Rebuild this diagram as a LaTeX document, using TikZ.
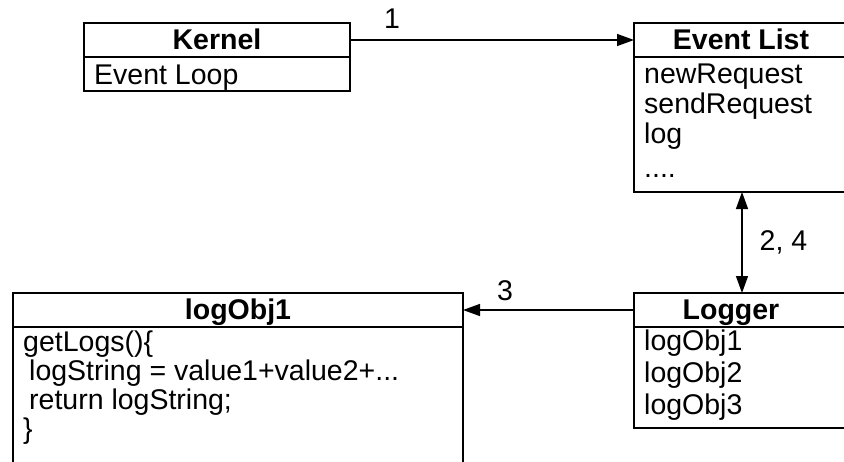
\documentclass[tikz,border=0pt]{standalone}
\usepackage{fontspec}
\setmainfont{Liberation Sans}
\usetikzlibrary{arrows.meta}
\begin{document}
\begin{tikzpicture}[x=1pt,y=-1pt,
  box/.style={draw, line width=1.8pt, rectangle, anchor=north west, inner sep=0pt, outer sep=0pt},
  tip/.tip={Triangle[length=17pt,width=12pt]},
  conn/.style={line width=1.4pt, -tip},
  dconn/.style={line width=1.4pt, tip-tip},
  txt/.style={anchor=base west, inner sep=0pt, font=\fontsize{28.5}{30}\selectfont},
  headtxt/.style={anchor=base, inner sep=0pt, font=\fontsize{28.5}{30}\selectfont\bfseries},
  lbl/.style={inner sep=0pt, font=\fontsize{28.5}{30}\selectfont}]
\clip (0,0) rectangle (844,461);
\fill[white] (0,0) rectangle (844,461);

% Kernel
\node[box, minimum width=266pt, minimum height=34pt] (kernelH) at (84,23) {};
\node[box, minimum width=266pt, minimum height=34pt] (kernelB) at (84,57) {};
\node[headtxt] (kernelT) at (217,49) {Kernel};
\node[txt] (kernel1) at (94,84) {Event Loop};

% Event List
\node[box, minimum width=216pt, minimum height=34pt] (evH) at (634,23) {};
\node[box, minimum width=216pt, minimum height=135pt] (evB) at (634,57) {};
\node[headtxt] (evT) at (741,49) {Event List};
\node[txt] (ev1) at (644,83) {newRequest};
\node[txt] (ev2) at (644,113) {sendRequest};
\node[txt] (ev3) at (644,143) {log};
\node[txt] (ev4) at (644,177) {....};

% logObj1
\node[box, minimum width=450pt, minimum height=34pt] (objH) at (13,293) {};
\node[box, minimum width=450pt, minimum height=160pt] (objB) at (13,327) {};
\node[headtxt] (objT) at (238,319) {logObj1};
\node[txt] (obj1) at (23,351) {getLogs()\{};
\node[txt] (obj2) at (29,380) {logString = value1+value2+...};
\node[txt] (obj3) at (29,409) {return logString;};
\node[txt] (obj4) at (23,438) {\}};

% Logger
\node[box, minimum width=216pt, minimum height=34pt] (logH) at (634,293) {};
\node[box, minimum width=216pt, minimum height=101pt] (logB) at (634,327) {};
\node[headtxt] (logT) at (731,319) {Logger};
\node[txt] (log1) at (644,350) {logObj1};
\node[txt] (log2) at (644,382) {logObj2};
\node[txt] (log3) at (644,414) {logObj3};

% connectors
\draw[conn] (kernelH.east) -- node[lbl, pos=0.148, above=11pt] (l1) {1} (evH.west);
\draw[conn] (logH.west) -- node[lbl, pos=0.754, above=9pt] (l3) {3} (objH.east);
\coordinate (a24) at (742,0);
\draw[dconn] (evB.south -| a24) -- node[lbl, right=17pt] (l24) {2, 4} (logH.north -| a24);
\end{tikzpicture}
\end{document}
